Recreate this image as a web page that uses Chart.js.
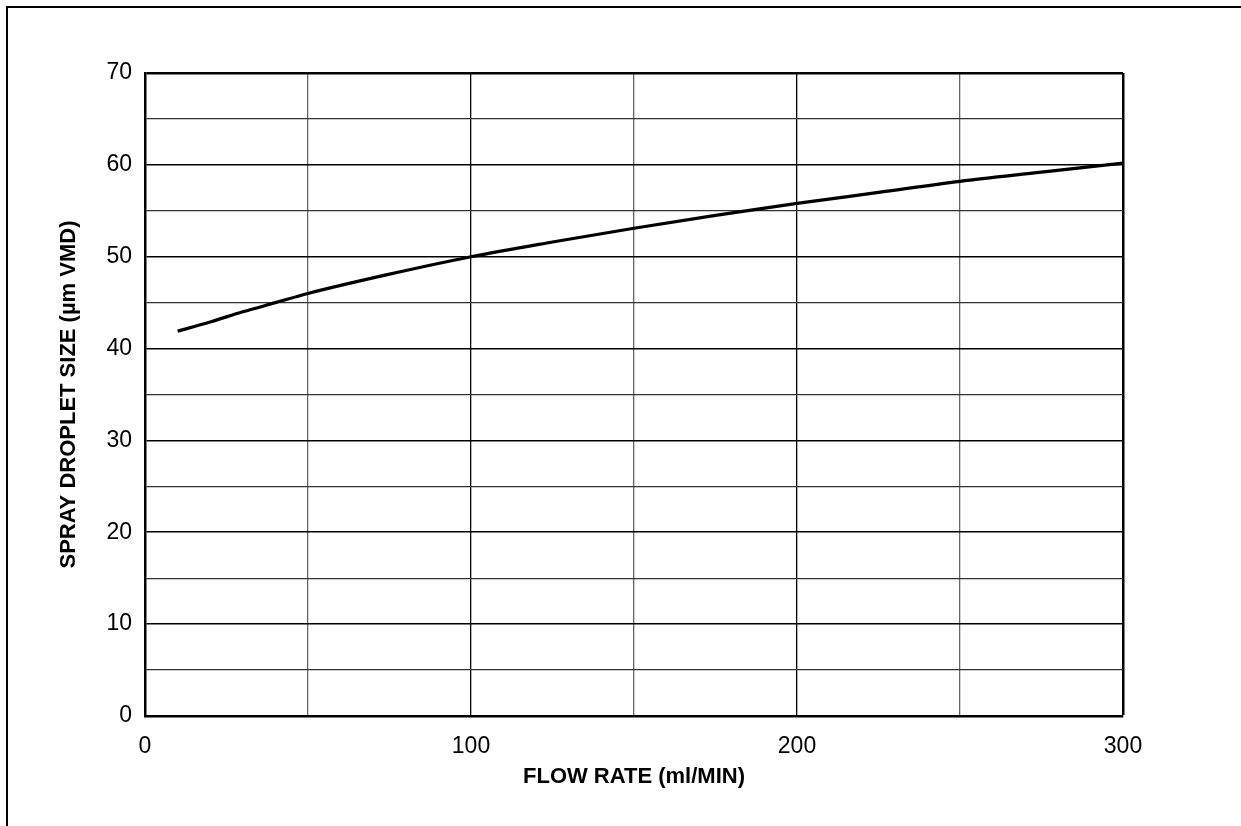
<!DOCTYPE html>
<html>
<head>
<meta charset="utf-8">
<script src="https://cdn.jsdelivr.net/npm/chart.js@4.4.1/dist/chart.umd.min.js"></script>
<style>
  html, body { margin: 0; padding: 0; background: #fff; }
  body { width: 1241px; height: 826px; position: relative; overflow: hidden; }
  #frame { position: absolute; left: 6px; top: 6px; right: -10px; bottom: -10px;
           border-top: 2px solid #000; border-left: 2px solid #000; }
  #chart { position: absolute; left: 0; top: 0; }
</style>
</head>
<body>
<div id="frame"></div>
<canvas id="chart" width="1241" height="826"></canvas>
<script>
// Flow rate (ml/min) against droplet size (µm VMD)
const flowRate = [10, 20, 30, 40, 50, 75, 100, 125, 150, 175, 200, 225, 250, 275, 300];
const dropletSize = [41.9, 42.9, 44.0, 45.0, 46.0, 48.1, 50.0, 51.6, 53.1, 54.5, 55.8, 57.0, 58.2, 59.2, 60.2];
const xTicks = [0, 100, 200, 300];
const yTicks = [0, 10, 20, 30, 40, 50, 60, 70];

const FONT = "'Liberation Sans', Arial, sans-serif";

new Chart(document.getElementById("chart"), {
  type: "scatter",
  data: {
    datasets: [{
      data: flowRate.map((x, i) => ({ x: x, y: dropletSize[i] })),
      showLine: true,
      borderColor: "#000",
      borderWidth: 3.2,
      pointRadius: 0,
      tension: 0.4,
      cubicInterpolationMode: "monotone"
    }]
  },
  options: {
    responsive: false,
    animation: false,
    devicePixelRatio: 1,
    layout: { padding: { left: 0, top: 73, right: 118, bottom: 0 } },
    plugins: { legend: { display: false }, tooltip: { enabled: false } },
    scales: {
      x: {
        type: "linear",
        min: 0, max: 300,
        afterFit: s => { s.height = 110; },
        border: { color: "#000", width: 2.5 },
        grid: {
          drawTicks: false,
          color: c => (c.tick.value % 100 === 0 ? "#000" : "#666"),
          lineWidth: c => (c.tick.value === 300 ? 2.5 : 1.3)
        },
        ticks: {
          stepSize: 50,
          autoSkip: false,
          maxRotation: 0,
          padding: 17,
          color: "#000",
          font: { family: FONT, size: 23 },
          callback: v => (xTicks.includes(v) ? String(v) : "")
        },
        title: {
          display: true,
          text: "FLOW RATE (ml/MIN)",
          color: "#000",
          font: { family: FONT, size: 22, weight: "bold" },
          padding: { top: 0, bottom: 36 }
        }
      },
      y: {
        min: 0, max: 70,
        afterFit: s => { s.width = 145; },
        border: { color: "#000", width: 2.5 },
        grid: {
          drawTicks: false,
          color: c => (c.tick.value % 10 === 0 ? "#000" : "#333"),
          lineWidth: c => (c.tick.value === 70 ? 2.5 : c.tick.value % 10 === 0 ? 1.6 : 1.3)
        },
        ticks: {
          stepSize: 5,
          autoSkip: false,
          padding: 13,
          color: "#000",
          font: { family: FONT, size: 23 },
          callback: v => (yTicks.includes(v) ? String(v) : "")
        },
        title: {
          display: true,
          text: "SPRAY DROPLET SIZE (µm VMD)",
          color: "#000",
          font: { family: FONT, size: 22, weight: "bold" },
          padding: { top: 56, bottom: 0 }
        }
      }
    }
  }
});
</script>
</body>
</html>
